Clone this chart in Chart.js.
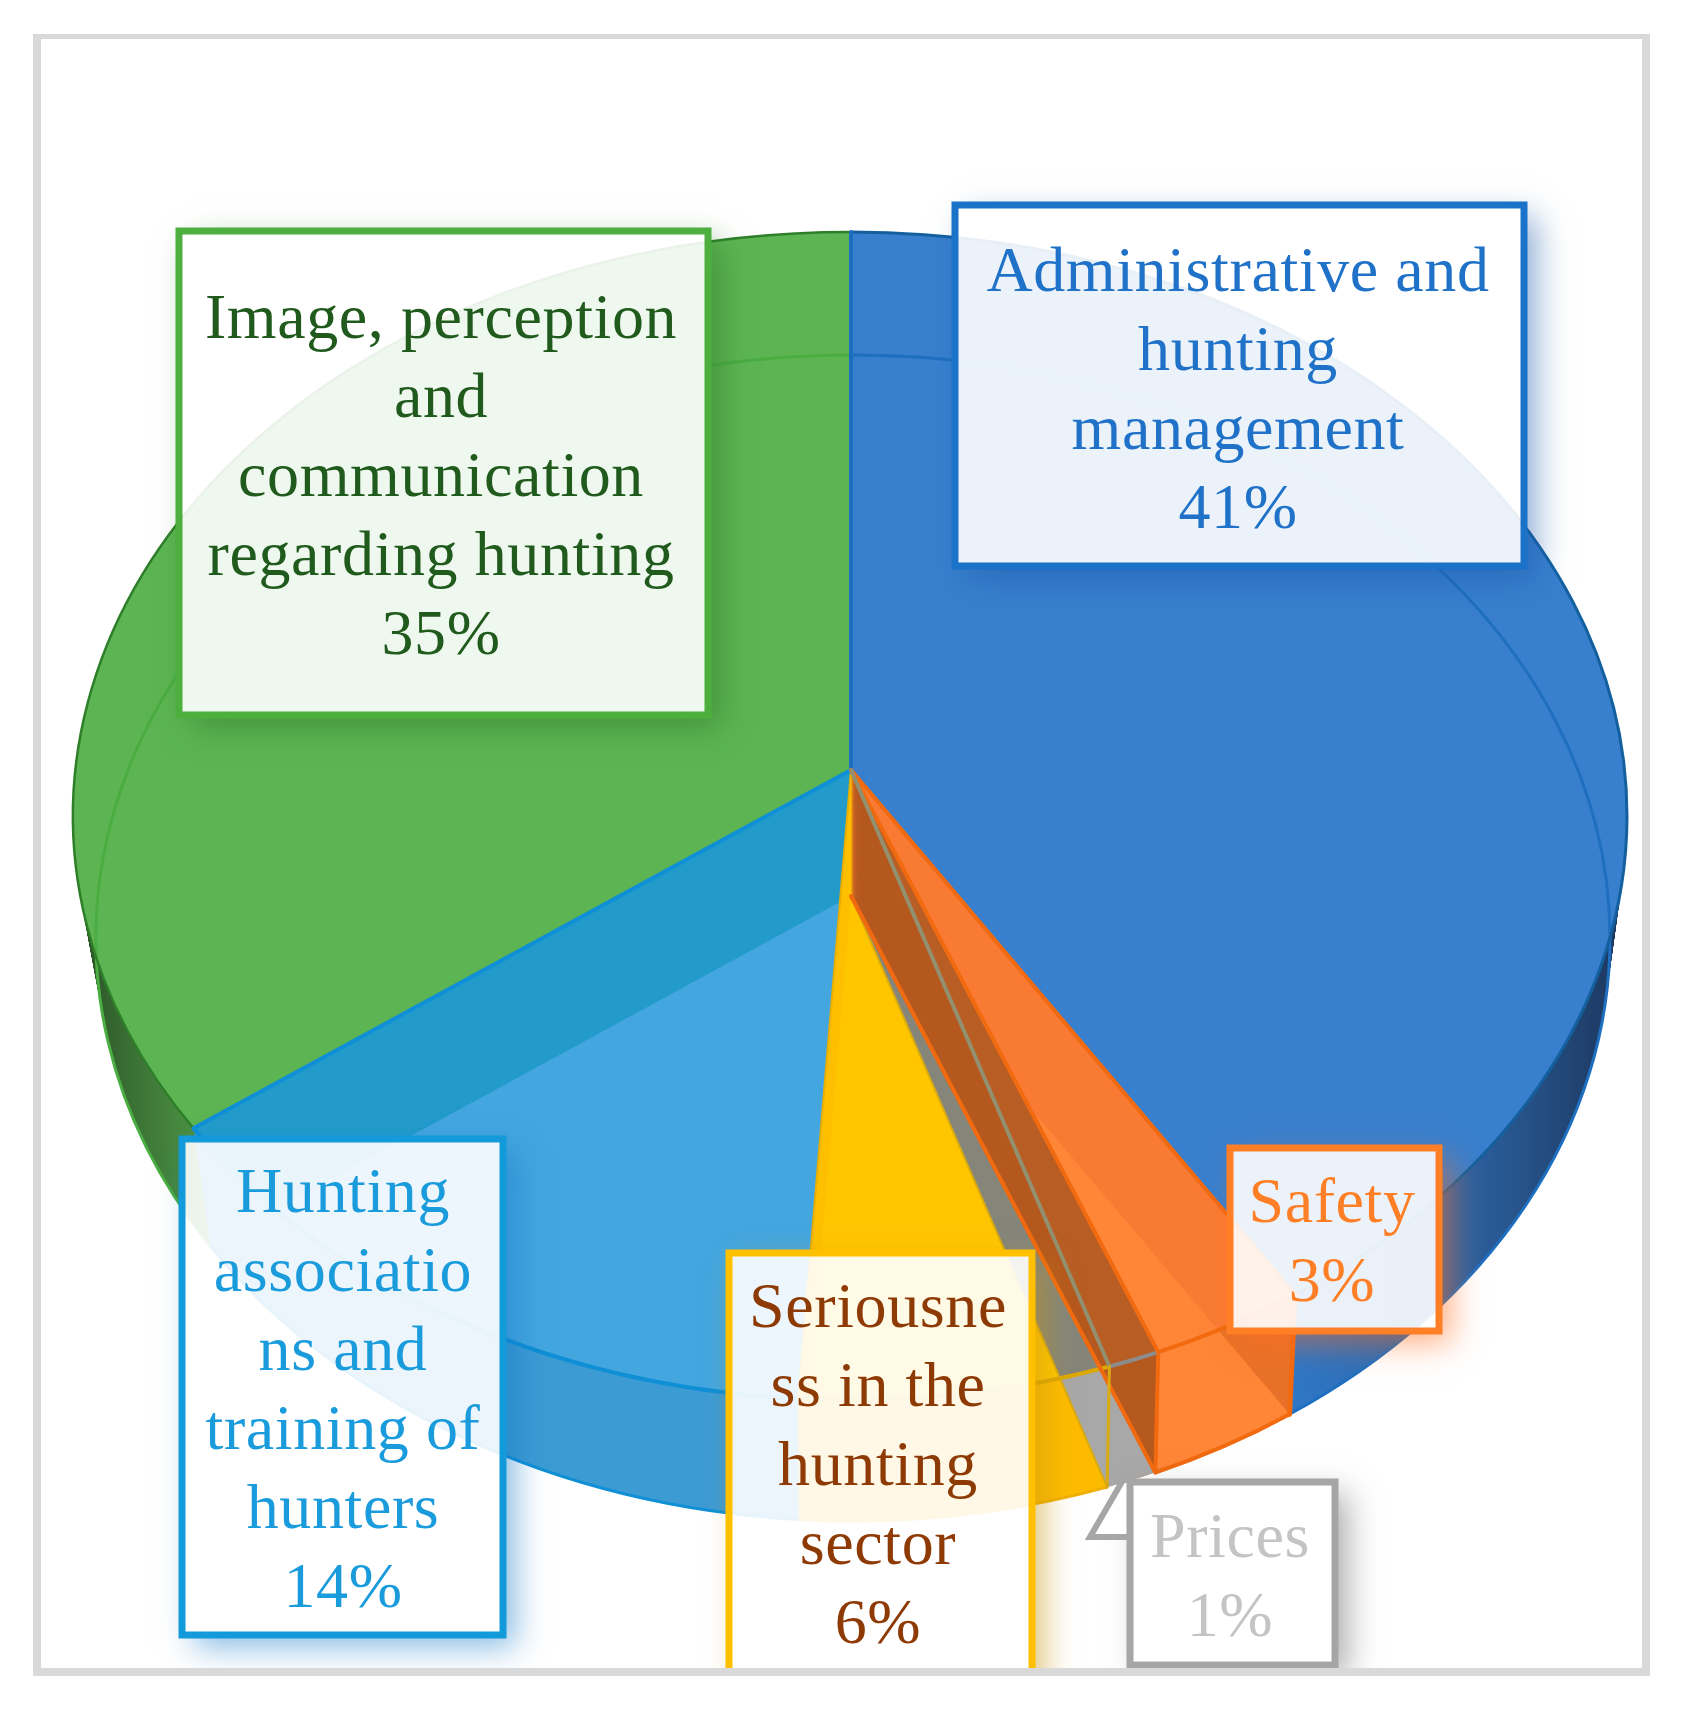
<!DOCTYPE html>
<html>
<head>
<meta charset="utf-8">
<title>Hunting topics</title>
<script src="https://cdn.jsdelivr.net/npm/chart.js@4"></script>
<style>
    html, body { margin: 0; background: #fff; }
    canvas { display: block; }
</style>
</head>
<body>
<canvas id="pie" width="1688" height="1717"></canvas>
<script>
// slices, clockwise from 12 o'clock
const categories = ['Administrative and hunting management', 'Safety', 'Prices', 'Seriousness in the hunting sector', 'Hunting associations and training of hunters', 'Image, perception and communication regarding hunting'];
const shares = [41, 3, 1, 6, 14, 35];
const labelLines = [
    ['Administrative and', 'hunting', 'management'],
    ['Safety'],
    ['Prices'],
    ['Seriousne', 'ss in the', 'hunting', 'sector'],
    ['Hunting', 'associatio', 'ns and', 'training of', 'hunters'],
    ['Image, perception', 'and', 'communication', 'regarding hunting']
];

const BLUE = 0, ORANGE = 1, GRAY = 2, YELLOW = 3, LIGHT = 4, GREEN = 5;

const borderColors = ['#1a73c9', '#ff7f27', '#a6a6a6', '#ffc000', '#129adb', '#4caf3e'];
const textColors = ['#1f72c8', '#ff7f27', '#c4c4c4', '#8e3a05', '#1a9bdc', '#205a1c'];
const shadowColors = ['rgba(26,90,170,.5)', 'rgba(255,110,30,.55)', 'rgba(90,90,90,.5)', 'rgba(200,150,20,.55)', 'rgba(18,120,200,.5)', 'rgba(50,120,40,.55)'];
// x, y, w, h of the label boxes, and the first baseline + centre of their text
const boxes = [[955, 205, 569, 361], [1230, 1148, 209, 183], [1130, 1482, 205, 183], [729, 1253, 303, 440], [182, 1139, 321, 496], [179, 231, 529, 484]];
const textPos = [[1238, 291], [1332, 1222], [1230, 1557], [878, 1327], [343, 1212], [441, 338]];

// the pie is a squashed, extruded disc: top face and base face
const SQUASH = 0.75;
const TOP = { ax: 851, ay: 770, cx: 850, cy: 816, rx: 777, ry: 584 };
const BASE = { ax: 851, ay: 896, cx: 853, cy: 938, rx: 757, ry: 583 };

function lerpLayer(a, b, t) {
    const out = {};
    Object.keys(a).forEach((k) => { out[k] = a[k] + (b[k] - a[k]) * t; });
    return out;
}

function fillWedge(ctx, el, layer, fill) {
    const big = Object.create(el);
    big.outerRadius = el.outerRadius * 1.4;
    big.options = {
        backgroundColor: fill, borderColor: fill, borderWidth: 0, borderAlign: 'center', borderJoinStyle: 'round',
        borderRadius: 0, borderDash: [], borderDashOffset: 0, circular: true, offset: 0, spacing: 0
    };
    ctx.save();
    ctx.beginPath();
    ctx.ellipse(layer.cx, layer.cy, layer.rx, layer.ry, 0, 0, Math.PI * 2);
    ctx.clip();
    ctx.translate(layer.ax - el.x, layer.ay);
    ctx.scale(1, SQUASH);
    ctx.translate(0, -el.y);
    big.draw(ctx);
    ctx.restore();
}

function sweep(ctx, el, fill) {
    const steps = 70;
    for (let s = 0; s <= steps; s++) fillWedge(ctx, el, lerpLayer(BASE, TOP, s / steps), fill);
}

// where the slice edge at this angle meets the rim of the layer
function rimPoint(angle, layer) {
    const dx = Math.cos(angle), dy = Math.sin(angle) * SQUASH;
    const ox = (layer.ax - layer.cx) / layer.rx, oy = (layer.ay - layer.cy) / layer.ry;
    const ux = dx / layer.rx, uy = dy / layer.ry;
    const a = ux * ux + uy * uy, b = 2 * (ox * ux + oy * uy), c = ox * ox + oy * oy - 1;
    const t = (-b + Math.sqrt(b * b - 4 * a * c)) / (2 * a);
    return { x: layer.ax + dx * t, y: layer.ay + dy * t };
}

function line(ctx, p, q, color, width) {
    ctx.save();
    ctx.strokeStyle = color;
    ctx.lineWidth = width;
    ctx.lineCap = 'round';
    ctx.beginPath();
    ctx.moveTo(p.x, p.y);
    ctx.lineTo(q.x, q.y);
    ctx.stroke();
    ctx.restore();
}

function edge(ctx, angle, layer, color, width) {
    line(ctx, { x: layer.ax, y: layer.ay }, rimPoint(angle, layer), color, width);
}

function wallEdge(ctx, angle, color, width) {
    line(ctx, rimPoint(angle, TOP), rimPoint(angle, BASE), color, width);
}

function rim(ctx, el, layer, color, width) {
    const p = rimPoint(el.startAngle, layer), q = rimPoint(el.endAngle, layer);
    const a0 = Math.atan2((p.y - layer.cy) / layer.ry, (p.x - layer.cx) / layer.rx);
    const a1 = Math.atan2((q.y - layer.cy) / layer.ry, (q.x - layer.cx) / layer.rx);
    ctx.save();
    ctx.strokeStyle = color;
    ctx.lineWidth = width;
    ctx.beginPath();
    ctx.ellipse(layer.cx, layer.cy, layer.rx, layer.ry, 0, a0, a1);
    ctx.stroke();
    ctx.restore();
}

function xGradient(ctx, stops) {
    const g = ctx.createLinearGradient(stops[0][0], 0, stops[stops.length - 1][0], 0);
    const x0 = stops[0][0], w = stops[stops.length - 1][0] - x0;
    stops.forEach((s) => g.addColorStop((s[0] - x0) / w, s[1]));
    return g;
}

function paintSlice(ctx, el, wall, baseWall, band, face) {
    sweep(ctx, el, wall);
    fillWedge(ctx, el, BASE, baseWall);
    fillWedge(ctx, el, TOP, band);
    ctx.save();
    ctx.beginPath();
    ctx.ellipse(TOP.cx, TOP.cy, TOP.rx, TOP.ry, 0, 0, Math.PI * 2);
    ctx.clip();
    fillWedge(ctx, el, BASE, face);
    ctx.restore();
}

const extrudedPie = {
    id: 'extrudedPie',
    beforeDatasetsDraw(chart) {
        const ctx = chart.ctx;
        const arcs = chart.getDatasetMeta(0).data;

        const blueWall = xGradient(ctx, [[1280, '#2f78c8'], [1450, '#2e66a8'], [1610, '#1d3a63']]);
        const greenWall = xGradient(ctx, [[85, '#2c5527'], [130, '#3a6f34'], [215, '#519c48']]);

        paintSlice(ctx, arcs[BLUE], blueWall, blueWall, '#387fce', '#387fce');
        paintSlice(ctx, arcs[GREEN], greenWall, greenWall, '#5cb552', '#5cb552');
        paintSlice(ctx, arcs[LIGHT], '#3d9bd3', '#3d9bd3', '#229bcb', '#44a6df');
        paintSlice(ctx, arcs[YELLOW], '#fdbb00', '#fdbb00', '#fdbf00', '#ffc600');
        paintSlice(ctx, arcs[ORANGE], '#e8722a', '#fe8636', '#f97b33', '#fe8636');
        paintSlice(ctx, arcs[GRAY], '#b5591f', '#a8a8a8', '#b85e25', '#85857a');

        // base rim shows through the translucent top
        rim(ctx, arcs[GREEN], BASE, '#4aad42', 3);
        rim(ctx, arcs[BLUE], BASE, '#1f6fc0', 3);
        rim(ctx, arcs[LIGHT], BASE, '#0e8fd6', 3);
        rim(ctx, arcs[YELLOW], BASE, '#f0b000', 3);
        rim(ctx, arcs[ORANGE], BASE, '#f26a10', 4);

        rim(ctx, arcs[GREEN], TOP, '#2f7f2a', 2.5);
        rim(ctx, arcs[BLUE], TOP, '#14609f', 3);
        rim(ctx, arcs[LIGHT], TOP, '#0e8fd6', 4);
        rim(ctx, arcs[YELLOW], TOP, '#dda800', 4);
        rim(ctx, arcs[GRAY], TOP, '#8c8c8c', 4);
        rim(ctx, arcs[ORANGE], TOP, '#f26a10', 4);

        edge(ctx, arcs[YELLOW].endAngle, TOP, '#e8ae00', 2);
        edge(ctx, arcs[YELLOW].startAngle, BASE, '#d9ab10', 2);
        edge(ctx, arcs[ORANGE].endAngle, BASE, '#f26a10', 4);
        edge(ctx, arcs[LIGHT].endAngle, TOP, '#0e8fd6', 4);
        edge(ctx, arcs[BLUE].startAngle, TOP, '#1b6ebe', 4);
        edge(ctx, arcs[ORANGE].startAngle, TOP, '#f26a10', 4);
        edge(ctx, arcs[ORANGE].endAngle, TOP, '#f26a10', 4);
        edge(ctx, arcs[GRAY].endAngle, TOP, '#93906f', 4);

        wallEdge(ctx, arcs[ORANGE].startAngle, '#f26a10', 5);
        wallEdge(ctx, arcs[ORANGE].endAngle, '#f26a10', 4);
        wallEdge(ctx, arcs[GRAY].endAngle, '#d9ab10', 3);

        return false;
    },
    afterDraw(chart) {
        const ctx = chart.ctx;

        ctx.save();
        ctx.beginPath();
        ctx.rect(41, 39, 1601, 1629);
        ctx.clip();
        shares.forEach((share, i) => drawLabel(ctx, share, i));
        ctx.restore();

        // outer frame
        ctx.save();
        ctx.fillStyle = '#d9d9d9';
        ctx.beginPath();
        ctx.rect(33, 34, 1617, 1642);
        ctx.rect(41, 39, 1601, 1629);
        ctx.fill('evenodd');
        ctx.restore();
    }
};

function drawLabel(ctx, share, i) {
    const [x, y, w, h] = boxes[i];
    const border = borderColors[i];

    // shadow only outside the box, the fill is see-through
    ctx.save();
    ctx.beginPath();
    ctx.rect(0, 0, 1688, 1717);
    ctx.rect(x, y, w, h);
    ctx.clip('evenodd');
    ctx.shadowColor = shadowColors[i];
    ctx.shadowBlur = 30;
    ctx.shadowOffsetX = 12;
    ctx.shadowOffsetY = 12;
    ctx.fillStyle = '#fff';
    ctx.fillRect(x, y, w, h);
    ctx.restore();

    ctx.fillStyle = 'rgba(255,255,255,.9)';
    ctx.fillRect(x, y, w, h);

    if (i === GRAY) {
        ctx.save();
        ctx.fillStyle = '#fff';
        ctx.strokeStyle = border;
        ctx.lineWidth = 6;
        ctx.beginPath();
        ctx.moveTo(x - 3, 1537);
        ctx.lineTo(1090, 1537);
        ctx.lineTo(1123, 1480);
        ctx.lineTo(x, 1480);
        ctx.fill();
        ctx.stroke();
        ctx.restore();
    }

    ctx.strokeStyle = border;
    ctx.lineWidth = 7;
    ctx.strokeRect(x, y, w, h);

    const [cx, firstBase] = textPos[i];
    const lines = labelLines[i].concat(`${share}%`);
    ctx.save();
    ctx.fillStyle = textColors[i];
    ctx.font = '64px "Liberation Serif"';
    ctx.letterSpacing = '0.6px';
    ctx.textAlign = 'center';
    lines.forEach((txt, n) => ctx.fillText(txt, cx, firstBase + n * 79));
    ctx.restore();
}

new Chart(document.getElementById('pie'), {
    type: 'pie',
    data: {
        labels: categories,
        datasets: [{ data: shares, backgroundColor: borderColors, borderWidth: 0 }]
    },
    options: {
        responsive: false,
        animation: false,
        layout: { padding: { left: 14, bottom: 177 } },
        plugins: { legend: { display: false }, tooltip: { enabled: false } }
    },
    plugins: [extrudedPie]
});
</script>
</body>
</html>
